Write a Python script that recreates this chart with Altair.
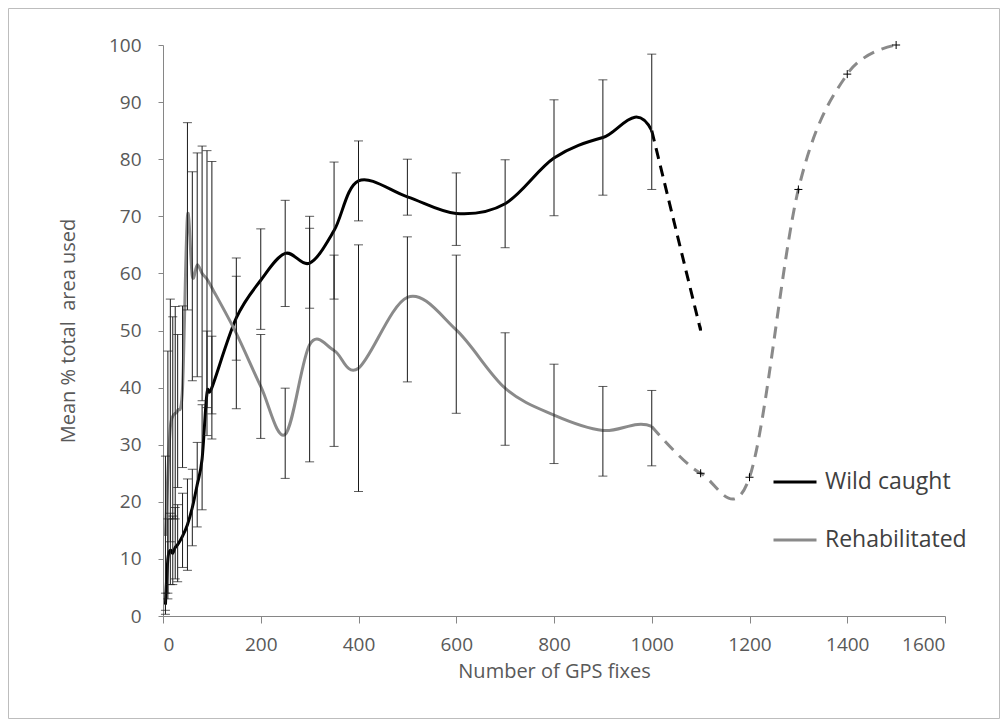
import altair as alt
import pandas as pd

# ---- data ----
x_fixes = [5, 10, 15, 20, 25, 30, 40, 50, 60, 70, 80, 90, 100,
           150, 200, 250, 300, 350, 400, 500, 600, 700, 800, 900, 1000]
wild_mean = [2.0, 10.0, 11.5, 11.0, 12.0, 12.5, 14.0, 16.0, 19.0, 23.0, 27.5, 39.0, 40.0,
             52.2, 58.8, 63.5, 61.8, 67.5, 76.2, 73.4, 70.5, 72.2, 80.2, 83.8, 85.0]
wild_lo = [0.3, 3.0, 5.5, 5.5, 6.5, 6.0, 8.5, 8.0, 12.3, 15.6, 18.6, 31.6, 31.0,
           44.8, 50.2, 54.2, 53.9, 55.5, 69.2, 70.2, 64.9, 64.5, 70.1, 73.7, 74.7]
wild_hi = [4.0, 17.0, 18.0, 17.5, 19.0, 19.5, 21.5, 24.0, 25.7, 30.4, 37.0, 49.9, 49.0,
           59.5, 67.8, 72.8, 70.0, 79.5, 83.2, 80.0, 77.6, 79.9, 90.4, 93.9, 98.4]
rehab_mean = [14.0, 25.0, 33.0, 35.0, 35.5, 36.0, 40.0, 70.0, 59.5, 61.5, 60.0, 59.0, 57.5,
              49.5, 40.2, 31.8, 47.5, 46.5, 43.4, 55.8, 50.1, 39.9, 35.2, 32.5, 33.2]
rehab_lo = [1.0, 4.0, 13.0, 17.0, 17.0, 22.5, 26.0, 53.6, 41.2, 41.9, 37.7, 36.5, 35.4,
            36.3, 31.1, 24.1, 27.0, 29.7, 21.8, 41.0, 35.5, 29.9, 26.7, 24.5, 26.3]
rehab_hi = [28.0, 46.4, 55.5, 52.4, 54.2, 49.3, 54.3, 86.4, 77.8, 81.1, 82.3, 81.5, 79.6,
            62.7, 49.3, 39.9, 67.9, 63.2, 65.0, 66.4, 63.2, 49.6, 44.1, 40.2, 39.5]

x_ext = [1100, 1200, 1300, 1400, 1500]
wild_ext = [50.0]
rehab_ext = [25.0, 24.3, 74.7, 94.9, 100.0]

series = ["Wild caught", "Rehabilitated"]
colors = ["#000000", "#8a8a8a"]
x_ticks = [0, 200, 400, 600, 800, 1000, 1200, 1400, 1600]
y_ticks = [0, 10, 20, 30, 40, 50, 60, 70, 80, 90, 100]

FONT = "Open Sans"
W, H = 782, 571

# ---- tables ----
solid = pd.concat([
    pd.DataFrame({"x": x_fixes + x_ext[:1], "y": wild_mean + wild_ext[:1], "series": series[0]}),
    pd.DataFrame({"x": x_fixes + x_ext[:1], "y": rehab_mean + rehab_ext[:1], "series": series[1]}),
])
dash_wild = pd.DataFrame({"x": x_fixes[-1:] + x_ext[:1], "y": wild_mean[-1:] + wild_ext})
dash_rehab = pd.DataFrame({"x": x_fixes[-1:] + x_ext, "y": rehab_mean[-1:] + rehab_ext})
bars = pd.concat([
    pd.DataFrame({"x": x_fixes, "lo": wild_lo, "hi": wild_hi}),
    pd.DataFrame({"x": x_fixes, "lo": rehab_lo, "hi": rehab_hi}),
])
marks_ext = pd.DataFrame({"x": x_ext, "y": rehab_ext})
mask = pd.DataFrame({"x0": x_fixes[-1:], "x1": x_ext[:1]})

xs = alt.Scale(domain=[0, 1600], nice=False)
ys = alt.Scale(domain=[0, 100], nice=False)

x_axis = alt.Axis(values=x_ticks, title="Number of GPS fixes", tickSize=7,
                  labelPadding=12, titlePadding=7, format="d")
y_axis = alt.Axis(values=y_ticks, title="Mean % total \u00a0area used", tickSize=5,
                  labelPadding=17, titlePadding=30)

lines = alt.Chart(solid).mark_line(interpolate="cardinal", strokeWidth=3).encode(
    x=alt.X("x:Q", scale=xs, axis=x_axis),
    y=alt.Y("y:Q", scale=ys, axis=y_axis),
    color=alt.Color("series:N", scale=alt.Scale(domain=series, range=colors),
                    legend=alt.Legend(orient="none", legendX=609, legendY=414, title=None,
                                      symbolType="stroke", symbolStrokeWidth=3,
                                      symbolSize=1849, labelFontSize=23, labelFont=FONT,
                                      labelColor="#404040", rowPadding=23, labelOffset=7,
                                      padding=0)),
    detail="series:N",
)

mask_rect = alt.Chart(mask).mark_rect(color="white").encode(
    x="x0:Q", x2="x1:Q", y=alt.value(0), y2=alt.value(H - 1)
)

dw = alt.Chart(dash_wild).mark_line(interpolate="cardinal", strokeWidth=3,
                                    color=colors[0], strokeDash=[11, 7]).encode(x="x:Q", y="y:Q")
dr = alt.Chart(dash_rehab).mark_line(interpolate="cardinal", strokeWidth=3,
                                     color=colors[1], strokeDash=[12, 8]).encode(x="x:Q", y="y:Q")

err = alt.Chart(bars).mark_rule(color="#1a1a1a", strokeWidth=1).encode(
    x="x:Q", y="lo:Q", y2="hi:Q")
cap_lo = alt.Chart(bars).mark_tick(orient="horizontal", color="#1a1a1a", thickness=1,
                                   size=9).encode(x="x:Q", y="lo:Q")
cap_hi = alt.Chart(bars).mark_tick(orient="horizontal", color="#1a1a1a", thickness=1,
                                   size=9).encode(x="x:Q", y="hi:Q")

plus = alt.Chart(marks_ext).mark_point(shape="M-1,0L1,0M0,-1L0,1", size=64, filled=False,
                                       color="#000000", strokeWidth=1, opacity=1).encode(
    x="x:Q", y="y:Q")

frame = alt.Chart(mask).mark_rect(fill="white", fillOpacity=0, stroke="#bdbdbd",
                                  strokeWidth=1).encode(
    x=alt.value(-154.5), x2=alt.value(836.5), y=alt.value(-36.5), y2=alt.value(673.5))

chart = alt.layer(lines, mask_rect, dw, dr, err, cap_lo, cap_hi, plus, frame).properties(
    width=W, height=H,
    autosize=alt.AutoSizeParams(type="none"),
    padding={"left": 155, "top": 37, "right": 55, "bottom": 103},
).configure_view(stroke=None).configure_axis(
    grid=False, domainColor="#868686", tickColor="#868686", labelColor="#595959",
    labelFont=FONT, labelFontSize=19, titleFont=FONT, titleFontSize=20,
    titleFontWeight="normal", titleColor="#595959", zindex=1,
)

chart.save("out.html", embed_options={"renderer": "svg", "actions": False})
